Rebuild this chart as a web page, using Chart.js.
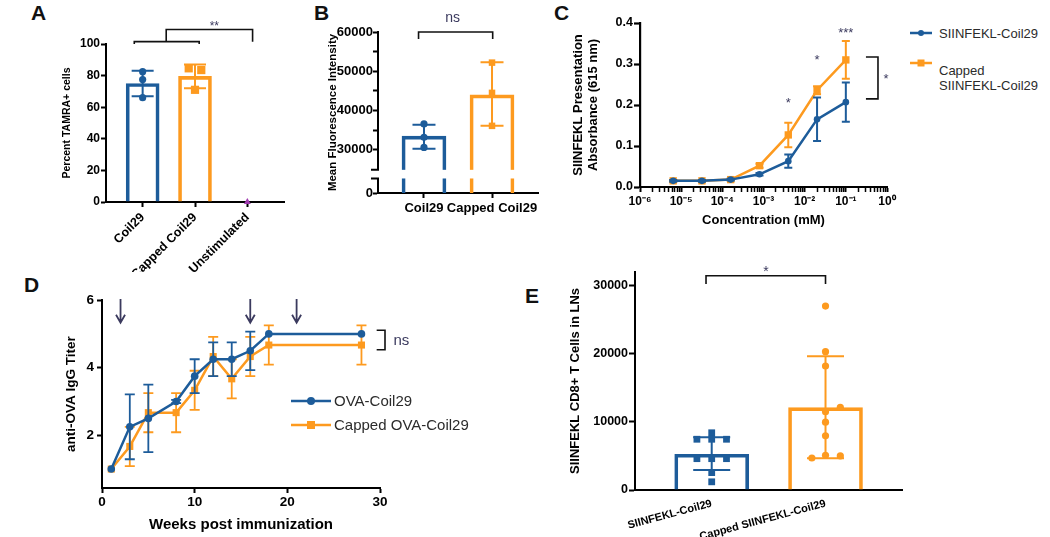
<!DOCTYPE html>
<html>
<head>
<meta charset="utf-8">
<title>Coil29 figure</title>
<script src="https://cdn.jsdelivr.net/npm/chart.js@4.4.1/dist/chart.umd.min.js"></script>
<style>
  html, body { margin: 0; padding: 0; background: #fff; }
  body { position: relative; width: 1050px; height: 537px; overflow: hidden; font-family: 'Liberation Sans', Arial, sans-serif; }
  .panel { position: absolute; }
  .letter { position: absolute; font-weight: bold; font-size: 21px; line-height: 21px; color: #111; }
  .key { position: absolute; color: #2b2b2b; white-space: nowrap; }
  .mk { position: absolute; }
</style>
</head>
<body>
<div class="letter" style="left:31px;top:2px">A</div>
<div class="letter" style="left:314px;top:2px">B</div>
<div class="letter" style="left:554px;top:2px">C</div>
<div class="letter" style="left:24px;top:274px">D</div>
<div class="letter" style="left:525px;top:285px">E</div>

<div class="panel" id="boxA"><canvas id="chartA"></canvas></div>
<div class="panel" id="boxB"><canvas id="chartB"></canvas></div>
<div class="panel" id="boxC"><canvas id="chartC"></canvas></div>
<div class="panel" id="boxD"><canvas id="chartD"></canvas></div>
<div class="panel" id="boxE"><canvas id="chartE"></canvas></div>

<!-- legend C -->
<svg class="mk" style="left:909px;top:28px" width="24" height="10"><line x1="1" y1="5" x2="23" y2="5" stroke="#1d5c9a" stroke-width="2.5"/><circle cx="12" cy="5" r="3" fill="#1d5c9a"/></svg>
<div class="key" style="left:939px;top:25.5px;font-size:13px;line-height:15px">SIINFEKL-Coil29</div>
<svg class="mk" style="left:909px;top:58px" width="24" height="10"><line x1="1" y1="5" x2="23" y2="5" stroke="#fd9a1f" stroke-width="2.5"/><rect x="8.5" y="1.5" width="7" height="7" fill="#fd9a1f"/></svg>
<div class="key" style="left:939px;top:62.5px;font-size:13px;line-height:15px">Capped<br>SIINFEKL-Coil29</div>

<!-- legend D -->
<svg class="mk" style="left:291px;top:396px" width="40" height="10"><line x1="0" y1="5" x2="40" y2="5" stroke="#1d5c9a" stroke-width="2.5"/><circle cx="20" cy="5" r="4" fill="#1d5c9a"/></svg>
<div class="key" style="left:334px;top:392px;font-size:15px;line-height:18px">OVA-Coil29</div>
<svg class="mk" style="left:291px;top:420px" width="40" height="10"><line x1="0" y1="5" x2="40" y2="5" stroke="#fd9a1f" stroke-width="2.5"/><rect x="16" y="1" width="8" height="8" fill="#fd9a1f"/></svg>
<div class="key" style="left:334px;top:416px;font-size:15px;line-height:18px">Capped OVA-Coil29</div>

<script>
const BLUE = '#1d5c9a', ORANGE = '#fd9a1f', PURPLE = '#a03cb0', NAVY = '#3b3a5e';
const FONT = "'Liberation Sans', Arial, Helvetica, sans-serif";

// ---- A: percent TAMRA+ cells
const aCats = ['Coil29', 'Capped Coil29', 'Unstimulated'];
const aMeans = [75, 79.5, 0];
const aLow = [67, 72, 0];
const aHigh = [83, 87, 0];
const aCoilPts = [82.5, 77.5, 66];
const aCappedPts = [84.6, 83.5, 71];
const aCappedJit = [-0.12, 0.12, 0];
const aUnstimPts = [0];
const aYTicks = [0, 20, 40, 60, 80, 100];

// ---- B: mean fluorescence intensity (broken axis)
const bCats = ['Coil29', 'Capped Coil29'];
const bMeans = [33500, 44000];
const bLow = [30300, 36100];
const bHigh = [36400, 52300];
const bCoilPts = [36600, 33200, 30600];
const bCappedPts = [52200, 44500, 36100];
const bYTicks = [30000, 35000, 40000, 45000, 50000, 55000, 60000];
const bFloor = 19000;            // bottom of broken axis, shown as 0
const bBreak = [22700, 24900];   // gap in the axis

// ---- C: SIINFEKL presentation
const cConc = [0.0000064, 0.000032, 0.00016, 0.0008, 0.004, 0.02, 0.1];
const cCoil = [0.015, 0.015, 0.018, 0.031, 0.063, 0.165, 0.207];
const cCoilErr = [0.002, 0.002, 0.002, 0.003, 0.016, 0.053, 0.048];
const cCapped = [0.015, 0.015, 0.018, 0.052, 0.127, 0.236, 0.31];
const cCappedErr = [0.002, 0.002, 0.002, 0.005, 0.03, 0.01, 0.046];
const cXLabels = ['10⁻⁶', '10⁻⁵', '10⁻⁴', '10⁻³', '10⁻²', '10⁻¹', '10⁰'];
const cYTicks = [0, 0.1, 0.2, 0.3, 0.4];

// ---- D: anti-OVA IgG titer
const dWeeks = [1, 3, 5, 8, 10, 12, 14, 16, 18, 28];
const dCoil = [1, 2.25, 2.5, 3, 3.75, 4.25, 4.25, 4.5, 5, 5];
const dCoilErr = [0, 0.96, 1.0, 0.05, 0.5, 0.5, 0.5, 0.57, 0, 0];
const dCapped = [1, 1.67, 2.67, 2.67, 3.33, 4.33, 3.67, 4.33, 4.67, 4.67];
const dCappedErr = [0, 0.58, 0.58, 0.58, 0.58, 0.58, 0.58, 0.58, 0.58, 0.58];
const dBoosts = [2, 16, 21];
const dXTicks = [0, 10, 20, 30];
const dYTicks = [2, 4, 6];

// ---- E: SIINFEKL CD8+ T cells in LNs
const eCats = ['SIINFEKL-Coil29', 'Capped SIINFEKL-Coil29'];
const eMeans = [5250, 12100];
const eLow = [2950, 4650];
const eHigh = [7750, 19650];
const eCoilPts = [8400, 7450, 7450, 7450, 4600, 4600, 4600, 2550, 1200];
const eCoilJit = [0, -0.13, 0, 0.13, -0.13, 0, 0.13, 0, 0];
const eCappedPts = [27000, 20300, 18200, 12150, 11500, 9950, 7950, 4700, 5100, 5000];
const eCappedJit = [0, 0, 0, 0.13, 0, 0, 0, -0.12, 0, 0.13];
const eYTicks = [0, 10000, 20000, 30000];

Chart.defaults.font.family = FONT;
Chart.defaults.color = '#000';
Chart.defaults.animation = false;
Chart.defaults.events = [];
Chart.defaults.plugins.legend.display = false;
Chart.defaults.plugins.tooltip.enabled = false;

// error bars drawn right after their own dataset
const errorBars = {
  id: 'errorBars',
  afterDatasetDraw(chart, args) {
    const ds = chart.data.datasets[args.index];
    if (!ds.errLow) return;
    const y = chart.scales.y, ctx = chart.ctx;
    ctx.save();
    ctx.lineWidth = ds.errWidth || 2;
    args.meta.data.forEach((el, i) => {
      const lo = ds.errLow[i], hi = ds.errHigh[i];
      if (lo == null || lo === hi) return;
      const col = ds.errColor || ds.borderColor;
      ctx.strokeStyle = Array.isArray(col) ? col[i] : col;
      const x = el.x, y1 = y.getPixelForValue(lo), y2 = y.getPixelForValue(hi), c = ds.errCap;
      ctx.beginPath();
      ctx.moveTo(x, y1); ctx.lineTo(x, y2);
      ctx.moveTo(x - c, y1); ctx.lineTo(x + c, y1);
      ctx.moveTo(x - c, y2); ctx.lineTo(x + c, y2);
      ctx.stroke();
    });
    ctx.restore();
  }
};

// gap in a broken y axis
const axisBreak = {
  id: 'axisBreak',
  afterDatasetsDraw(chart, args, o) {
    if (!o.range) return;
    const y = chart.scales.y, a = chart.chartArea, ctx = chart.ctx;
    const top = y.getPixelForValue(o.range[1]), bot = y.getPixelForValue(o.range[0]);
    ctx.save();
    ctx.fillStyle = '#fff';
    ctx.fillRect(a.left - 3, top, a.right - a.left + 3, bot - top);
    ctx.strokeStyle = '#000';
    ctx.lineWidth = 2;
    ctx.beginPath();
    ctx.moveTo(a.left - 7, top); ctx.lineTo(a.left + 1, top);
    ctx.moveTo(a.left - 7, bot); ctx.lineTo(a.left + 1, bot);
    ctx.stroke();
    ctx.restore();
  }
};

// brackets, stars, arrows (all in data units)
const marks = {
  id: 'marks',
  afterDraw(chart, args, o) {
    const { ctx, scales: { x, y } } = chart;
    const px = v => x.getPixelForValue(v), py = v => y.getPixelForValue(v);
    ctx.save();
    ctx.strokeStyle = '#111';
    ctx.lineWidth = 1.6;
    (o.lines || []).forEach(l => {
      ctx.beginPath();
      l.forEach(([a, b], i) => i ? ctx.lineTo(px(a), py(b)) : ctx.moveTo(px(a), py(b)));
      ctx.stroke();
    });
    if (o.arrows) {
      ctx.strokeStyle = NAVY;
      ctx.lineWidth = 1.8;
      o.arrows.xs.forEach(v => {
        const ax = px(v), y1 = py(o.arrows.from), y2 = py(o.arrows.to);
        ctx.beginPath();
        ctx.moveTo(ax, y1); ctx.lineTo(ax, y2);
        ctx.moveTo(ax - 4.5, y2 - 8); ctx.lineTo(ax, y2); ctx.lineTo(ax + 4.5, y2 - 8);
        ctx.stroke();
      });
    }
    ctx.fillStyle = NAVY;
    ctx.textAlign = 'center';
    ctx.textBaseline = 'alphabetic';
    (o.texts || []).forEach(t => {
      ctx.font = `${t.size}px ${FONT}`;
      const k = t.text.includes('*') ? 0.57 : 0.26;
      ctx.fillText(t.text, px(t.x), py(t.y) + k * t.size);
    });
    ctx.restore();
  }
};

// place the canvas so the plot box lands on the given page rectangle
function place(id, area, m) {
  const box = document.getElementById(id);
  box.style.left = (area.l - m.yW) + 'px';
  box.style.top = (area.t - m.top) + 'px';
  box.style.width = (m.yW + area.r - area.l + m.right) + 'px';
  box.style.height = (m.top + area.b - area.t + m.xH) + 'px';
  return { top: m.top, right: m.right, left: 0, bottom: 0 };
}

function axis(o) {
  return {
    type: o.type || 'linear',
    position: o.pos,
    offset: false,
    min: o.min,
    max: o.max,
    afterFit: s => { if (o.pos === 'left') s.width = o.size; else s.height = o.size; },
    afterBuildTicks: s => { s.ticks = o.ticks.map(v => ({ value: v })); },
    border: { display: true, color: '#000', width: o.lw || 2 },
    grid: {
      offset: false,
      drawOnChartArea: false,
      tickLength: o.tl || 5,
      tickWidth: o.tw || o.lw || 2,
      tickColor: o.tc || '#000'
    },
    ticks: {
      autoSkip: false,
      font: { size: o.fs, weight: 'bold' },
      padding: o.pad == null ? 2 : o.pad,
      minRotation: o.rot || 0,
      maxRotation: o.rot || 0,
      callback: o.cb
    },
    title: o.title ? {
      display: true,
      text: o.title,
      font: { size: o.tfs, weight: 'bold', lineHeight: o.tlh || 1.2 },
      padding: o.pos === 'left' ? { top: o.tp, bottom: 0 } : { top: 0, bottom: o.tp }
    } : { display: false }
  };
}

function base(padding, scales, marksOpts, extra) {
  return {
    responsive: true,
    maintainAspectRatio: false,
    layout: { padding },
    scales,
    plugins: Object.assign({ marks: marksOpts }, extra || {})
  };
}

const pts = (vals, x, jit) => vals.map((v, i) => ({ x: x + (jit ? jit[i] : 0), y: v }));
const dot = (color, style, r) => ({
  pointStyle: style, pointRadius: r, pointBackgroundColor: color, pointBorderWidth: 0,
  borderWidth: 0, showLine: false, clip: false, order: 1
});

// ================= A =================
const padA = place('boxA', { l: 106, r: 284, t: 44, b: 202 }, { yW: 55, xH: 70, top: 35, right: 10 });
new Chart(document.getElementById('chartA'), {
  type: 'scatter',
  data: {
    datasets: [
      Object.assign({ data: pts(aCoilPts, 0) }, dot(BLUE, 'circle', 3.6)),
      Object.assign({ data: pts(aCappedPts, 1, aCappedJit) }, dot(ORANGE, 'rect', 5.8)),
      Object.assign({ data: pts(aUnstimPts, 2) }, dot(PURPLE, 'triangle', 4)),
      {
        type: 'bar', data: aMeans.map((v, i) => ({ x: i, y: v })), barThickness: 33,
        borderWidth: 3, borderColor: [BLUE, ORANGE, 'rgba(0,0,0,0)'], backgroundColor: 'rgba(0,0,0,0)',
        errLow: aLow, errHigh: aHigh, errCap: 11, order: 2
      }
    ]
  },
  options: base(padA, {
    x: axis({ pos: 'bottom', min: -0.7, max: 2.7, ticks: [0, 1, 2], size: 70, fs: 12.5, rot: 45, pad: 3,
              cb: v => aCats[v] }),
    y: axis({ pos: 'left', min: 0, max: 100, ticks: aYTicks, size: 55, fs: 12, pad: 1,
              title: 'Percent TAMRA+ cells', tfs: 10.5, tp: 9.4 })
  }, {
    lines: [
      [[-0.16, 100], [-0.16, 101.5], [1.08, 101.5], [1.08, 100]],
      [[0.45, 101.5], [0.45, 109.2], [2.1, 109.2], [2.1, 101.5]]
    ],
    texts: [{ x: 1.37, y: 113.5, text: '**', size: 12 }]
  }),
  plugins: [errorBars, marks]
});

// ================= B =================
const padB = place('boxB', { l: 378, r: 538, t: 32, b: 193 }, { yW: 56, xH: 25, top: 25, right: 10 });
new Chart(document.getElementById('chartB'), {
  type: 'scatter',
  data: {
    datasets: [
      Object.assign({ data: pts(bCoilPts, 0) }, dot(BLUE, 'circle', 3.6)),
      Object.assign({ data: pts(bCappedPts, 1) }, dot(ORANGE, 'rect', 4.6)),
      {
        type: 'bar', data: bMeans.map((v, i) => ({ x: i, y: v })), barThickness: 44,
        borderWidth: 3, borderColor: [BLUE, ORANGE], backgroundColor: 'rgba(0,0,0,0)',
        errLow: bLow, errHigh: bHigh, errCap: 11.5, order: 2
      }
    ]
  },
  options: base(padB, {
    x: axis({ pos: 'bottom', min: -0.676, max: 1.676, ticks: [0, 1], size: 25, fs: 13, pad: 3,
              cb: v => bCats[v] }),
    y: axis({ pos: 'left', min: bFloor, max: 60000, ticks: [bFloor].concat(bYTicks), size: 56, fs: 13, pad: 0,
              cb: v => v === bFloor ? '0' : (v % 10000 === 0 ? String(v) : ''),
              title: 'Mean Fluorescence Intensity', tfs: 11.5, tp: 4.1 })
  }, {
    lines: [[[-0.08, 58200], [-0.08, 60000], [1.01, 60000], [1.01, 58200]]],
    texts: [{ x: 0.42, y: 63400, text: 'ns', size: 14 }]
  }, { axisBreak: { range: bBreak } }),
  plugins: [errorBars, axisBreak, marks]
});

// ================= C =================
const decadeTicks = [];
for (let e = -6; e <= 0; e++) {
  for (let k = 1; k <= 9; k++) {
    if (e === 0 && k > 1) break;
    decadeTicks.push(k * Math.pow(10, e));
  }
}
const isDecade = v => Math.abs(Math.log10(v) - Math.round(Math.log10(v))) < 1e-9;
const cLine = (vals, err, color, style, r) => ({
  data: cConc.map((c, i) => ({ x: c, y: vals[i] })),
  showLine: true, borderColor: color, borderWidth: 2.5, tension: 0,
  pointStyle: style, pointRadius: r, pointBackgroundColor: color, pointBorderWidth: 0, clip: false,
  errLow: vals.map((v, i) => v - err[i]), errHigh: vals.map((v, i) => v + err[i]), errCap: 4
});
const padC = place('boxC', { l: 640, r: 887, t: 23, b: 187 }, { yW: 70, xH: 41, top: 10, right: 14 });
const cX = axis({ pos: 'bottom', type: 'logarithmic', min: 1e-6, max: 1, ticks: decadeTicks, size: 41, fs: 12, pad: 2,
                  cb: v => isDecade(v) ? cXLabels[Math.round(Math.log10(v)) + 6] : '',
                  title: 'Concentration (mM)', tfs: 13, tlh: 1.15, tp: 0.5 });
cX.grid.tickWidth = c => (c.tick && isDecade(c.tick.value)) ? 2 : 1.5;
new Chart(document.getElementById('chartC'), {
  type: 'scatter',
  data: {
    datasets: [
      cLine(cCoil, cCoilErr, BLUE, 'circle', 3.3),
      cLine(cCapped, cCappedErr, ORANGE, 'rect', 5.2)
    ]
  },
  options: base(padC, {
    x: cX,
    y: axis({ pos: 'left', min: 0, max: 0.4, ticks: cYTicks, size: 70, fs: 12.5, tl: 6, lw: 2.2, pad: 1,
              cb: v => v.toFixed(1),
              title: ['SIINFEKL Presentation', 'Absorbance (615 nm)'], tfs: 13, tlh: 1.15, tp: 0.5 })
  }, {
    lines: [[[0.308, 0.317], [0.604, 0.317], [0.604, 0.215], [0.308, 0.215]]],
    texts: [
      { x: 0.004, y: 0.212, text: '*', size: 13 },
      { x: 0.02, y: 0.317, text: '*', size: 13 },
      { x: 0.1, y: 0.385, text: '***', size: 13 },
      { x: 0.944, y: 0.271, text: '*', size: 13 }
    ]
  }),
  plugins: [errorBars, marks]
});

// ================= D =================
const dLine = (vals, err, color, style, r) => ({
  data: dWeeks.map((w, i) => ({ x: w, y: vals[i] })),
  showLine: true, borderColor: color, borderWidth: 2.5, tension: 0,
  pointStyle: style, pointRadius: r, pointBackgroundColor: color, pointBorderWidth: 0, clip: false,
  errLow: vals.map((v, i) => v - err[i]), errHigh: vals.map((v, i) => v + err[i]), errCap: 5, errWidth: 1.8
});
const padD = place('boxD', { l: 102, r: 380, t: 299, b: 488 }, { yW: 45, xH: 46, top: 10, right: 40 });
new Chart(document.getElementById('chartD'), {
  type: 'scatter',
  data: {
    datasets: [
      dLine(dCoil, dCoilErr, BLUE, 'circle', 3.8),
      dLine(dCapped, dCappedErr, ORANGE, 'rect', 5)
    ]
  },
  options: base(padD, {
    x: axis({ pos: 'bottom', min: 0, max: 30, ticks: dXTicks, size: 46, fs: 13.5, pad: 1.5,
              title: 'Weeks post immunization', tfs: 15, tp: 0 }),
    y: axis({ pos: 'left', min: 0.44, max: 6, ticks: dYTicks, size: 45, fs: 13.5, pad: 3,
              title: 'anti-OVA IgG Titer', tfs: 13.5, tp: 6.6 })
  }, {
    lines: [[[29.64, 5.11], [30.54, 5.11], [30.54, 4.53], [29.64, 4.53]]],
    arrows: { xs: dBoosts, from: 6.03, to: 5.33 },
    texts: [{ x: 32.3, y: 4.79, text: 'ns', size: 15 }]
  }),
  plugins: [errorBars, marks]
});

// ================= E =================
const padE = place('boxE', { l: 635, r: 902, t: 272, b: 490 }, { yW: 70, xH: 50, top: 14, right: 10 });
new Chart(document.getElementById('chartE'), {
  type: 'scatter',
  data: {
    datasets: [
      Object.assign({ data: pts(eCoilPts, 0, eCoilJit) }, dot(BLUE, 'rect', 4.8)),
      Object.assign({ data: pts(eCappedPts, 1, eCappedJit) }, dot(ORANGE, 'circle', 3.6)),
      {
        type: 'bar', data: eMeans.map((v, i) => ({ x: i, y: v })), barThickness: 74,
        borderWidth: 3, borderColor: [BLUE, ORANGE], backgroundColor: 'rgba(0,0,0,0)',
        errLow: eLow, errHigh: eHigh, errCap: 18.5, order: 2
      }
    ]
  },
  options: base(padE, {
    x: axis({ pos: 'bottom', min: -0.674, max: 1.672, ticks: [0, 1], size: 50, fs: 11, rot: 15, pad: 2,
              tc: 'rgba(0,0,0,0)', cb: v => eCats[v] }),
    y: axis({ pos: 'left', min: 0, max: 32000, ticks: eYTicks, size: 70, fs: 12.5, tl: 6, pad: 1,
              title: 'SIINFEKL CD8+ T Cells in LNs', tfs: 13, tp: 2.2 })
  }, {
    lines: [[[-0.05, 30240], [-0.05, 31460], [1.0, 31460], [1.0, 30240]]],
    texts: [{ x: 0.477, y: 32590, text: '*', size: 14 }]
  }),
  plugins: [errorBars, marks]
});
</script>
</body>
</html>
